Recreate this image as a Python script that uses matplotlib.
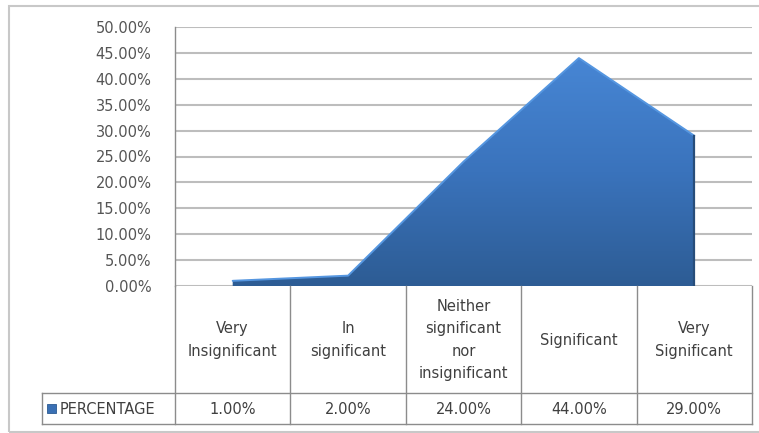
import numpy as np
import matplotlib.pyplot as plt
import matplotlib.transforms as mtransforms
from matplotlib.colors import LinearSegmentedColormap
from matplotlib.patches import Polygon, Rectangle
from matplotlib.lines import Line2D

# data
categories = ["Very\nInsignificant", "In\nsignificant",
              "Neither\nsignificant\nnor\ninsignificant",
              "Significant", "Very\nSignificant"]
percentage = [1.00, 2.00, 24.00, 44.00, 29.00]
series_name = "PERCENTAGE"
yticks = np.arange(0, 50.01, 5)

W, H = 759, 433
TXT = "#404040"
GRID = "#bdbdbd"
LINE = "#8c8c8c"

plt.rcParams["font.family"] = "DejaVu Sans"

fig = plt.figure(figsize=(W / 100, H / 100), dpi=100)


def fy(py):
    # figure fraction from a pixel row measured from the top
    return 1 - py / H


ax = fig.add_axes([175 / W, fy(286), (752 - 175) / W, (286 - 27) / H])
x = np.arange(len(percentage))
ax.set_xlim(-0.5, len(percentage) - 0.5)
ax.set_ylim(0, 50)

# gradient filled area
verts = [(x[0], 0)] + list(zip(x, percentage)) + [(x[-1], 0)]
poly = Polygon(verts, closed=True, facecolor="none", edgecolor="none")
ax.add_patch(poly)
cmap = LinearSegmentedColormap.from_list("blu", ["#2d5c94", "#3a73bc", "#4786d4"])
grad = np.linspace(0, 1, 256).reshape(-1, 1)
im = ax.imshow(grad, cmap=cmap, origin="lower", aspect="auto",
               extent=[-0.5, len(percentage) - 0.5, 0, max(percentage)], zorder=2)
im.set_clip_path(poly)
# bevel highlight on the top edge, shadow on the right edge
ax.plot(x, percentage, color="#5596e0", lw=1.4, zorder=3, solid_capstyle="round")
ax.plot([x[-1], x[-1]], [0, percentage[-1]], color="#274d7a", lw=1.6, zorder=3)

ax.set_yticks(yticks)
ax.set_yticklabels(["%.2f%%" % v for v in yticks], color="#555555", fontsize=10.5)
ax.tick_params(axis="y", length=0, pad=17)
ax.set_xticks([])
ax.grid(axis="y", color=GRID, lw=1.5, zorder=0)
ax.set_axisbelow(True)
for s in ["top", "right", "bottom"]:
    ax.spines[s].set_visible(False)
ax.spines["left"].set_color(LINE)
ax.spines["left"].set_linewidth(1.0)

# data table under the plot
blend = mtransforms.blended_transform_factory(ax.transData, fig.transFigure)
for b in np.arange(-0.5, len(percentage), 1.0):
    fig.add_artist(Line2D([b, b], [fy(286), fy(424)], transform=blend,
                          color=LINE, lw=1.0))
for py in (393, 424):
    fig.add_artist(Line2D([42 / W, 752 / W], [fy(py), fy(py)],
                          transform=fig.transFigure, color=LINE, lw=1.0))
fig.add_artist(Line2D([42 / W, 42 / W], [fy(393), fy(424)],
                      transform=fig.transFigure, color=LINE, lw=1.0))

for i, (cat, val) in enumerate(zip(categories, percentage)):
    fig.text(i, fy(340), cat, transform=blend, ha="center", va="center",
             fontsize=10.5, color=TXT, linespacing=1.62)
    fig.text(i, fy(409), "%.2f%%" % val, transform=blend, ha="center",
             va="center", fontsize=10.5, color=TXT)

# legend key and series name
fig.add_artist(Rectangle((47 / W, fy(413)), 9 / W, 9 / H, transform=fig.transFigure,
                         facecolor="#3a70b4", edgecolor="#2b5a92", lw=0.6))
fig.text(60 / W, fy(409), series_name, ha="left", va="center",
         fontsize=10.5, color=TXT)

# chart border
fig.add_artist(Rectangle((9 / W, fy(432)), 760 / W, (432 - 6) / H,
                         transform=fig.transFigure, facecolor="none",
                         edgecolor="#c8c8c8", lw=1.5))

fig.savefig("out.png", dpi=100)
